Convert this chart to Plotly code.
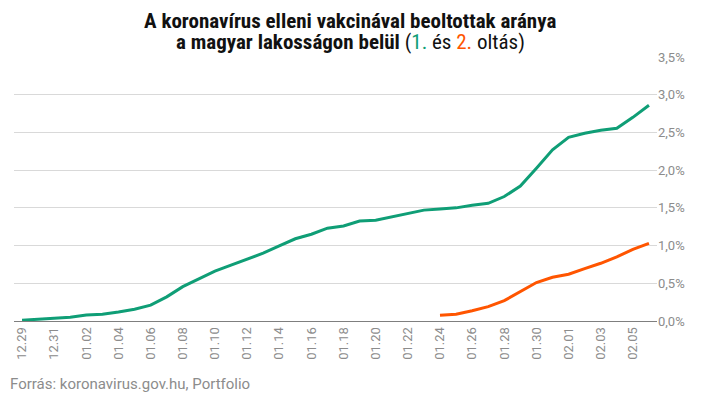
import plotly.graph_objects as go

dates = ["12.29", "12.30", "12.31",
         "01.01", "01.02", "01.03", "01.04", "01.05", "01.06", "01.07", "01.08",
         "01.09", "01.10", "01.11", "01.12", "01.13", "01.14", "01.15", "01.16",
         "01.17", "01.18", "01.19", "01.20", "01.21", "01.22", "01.23", "01.24",
         "01.25", "01.26", "01.27", "01.28", "01.29", "01.30", "01.31",
         "02.01", "02.02", "02.03", "02.04", "02.05", "02.06"]

first_dose = [0.01, 0.02, 0.03, 0.05, 0.08, 0.09, 0.12, 0.155, 0.21, 0.32,
              0.455, 0.56, 0.66, 0.74, 0.82, 0.90, 0.995, 1.09, 1.15, 1.23,
              1.26, 1.325, 1.335, 1.38, 1.43, 1.47, 1.485, 1.50, 1.535, 1.56,
              1.65, 1.79, 2.025, 2.27, 2.435, 2.49, 2.53, 2.555, 2.70, 2.86]

second_dose = [None] * 26 + [0.075, 0.09, 0.135, 0.19, 0.27, 0.39, 0.51, 0.58,
                             0.62, 0.695, 0.765, 0.85, 0.95, 1.03]

tick_labels = dates[::2]
y_ticks = [0, 0.5, 1.0, 1.5, 2.0, 2.5, 3.0, 3.5]
y_tick_text = ["0,0%", "0,5%", "1,0%", "1,5%", "2,0%", "2,5%", "3,0%", "3,5%"]

GREEN = "#0f9e76"
ORANGE = "#ff5500"
GRAY = "#8c8c8c"

# page has an 8px body margin, so the figure is drawn 8px in and 8px down
W, H = 710, 390
L, R, T, B = 6, 61, 49, 77
PW = W - L - R

fig = go.Figure()
fig.add_trace(go.Scatter(x=dates, y=first_dose, mode="lines",
                         line=dict(color=GREEN, width=3), name="1. oltás",
                         hoverinfo="skip"))
fig.add_trace(go.Scatter(x=dates, y=second_dose, mode="lines",
                         line=dict(color=ORANGE, width=3), name="2. oltás",
                         hoverinfo="skip", connectgaps=False))

fig.update_layout(
    width=W, height=H,
    margin=dict(l=L, r=R, t=T, b=B),
    paper_bgcolor="white", plot_bgcolor="white",
    showlegend=False,
    font=dict(family="Roboto", color=GRAY),
    xaxis=dict(
        type="category",
        range=[-0.5, len(dates) - 0.5],
        tickmode="array", tickvals=tick_labels, ticktext=tick_labels,
        tickangle=-90, tickfont=dict(size=13, color=GRAY),
        showgrid=False, showline=True, linecolor="#7f7f7f", linewidth=1,
        ticks="", fixedrange=True,
    ),
    yaxis=dict(
        side="right", range=[0, 3.5], tickmode="array",
        tickvals=y_ticks, ticktext=y_tick_text,
        tickfont=dict(size=13, color=GRAY),
        showgrid=True, gridcolor="#d9d9d9", gridwidth=1,
        zeroline=False, showline=False, ticks="", fixedrange=True,
    ),
)

TFONT = "Liberation Sans Narrow, Roboto Condensed, Roboto"
fig.add_annotation(
    xref="paper", yref="paper", x=(342 - L) / PW, y=1, yanchor="middle",
    xanchor="center", showarrow=False, yshift=36,
    text="<b>A koronavírus elleni vakcinával beoltottak aránya</b>",
    font=dict(family=TFONT, size=21, color="#111111"),
)
fig.add_annotation(
    xref="paper", yref="paper", x=(342 - L) / PW, y=1, yanchor="middle",
    xanchor="center", showarrow=False, yshift=15,
    text=("<b>a magyar lakosságon belül</b> (<span style='color:%s'>1.</span> és "
          "<span style='color:%s'>2.</span> oltás)") % (GREEN, ORANGE),
    font=dict(family=TFONT, size=21, color="#111111"),
)

fig.add_annotation(
    xref="paper", yref="paper", x=-L / PW, y=0, yanchor="top", xanchor="left",
    yshift=-52, showarrow=False,
    text="Forrás: koronavirus.gov.hu, Portfolio",
    font=dict(family="Roboto", size=15, color=GRAY),
)

fig.write_html("out.html")
